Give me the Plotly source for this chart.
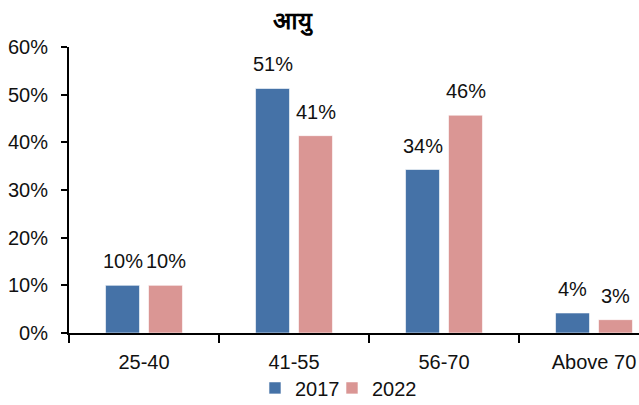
import plotly.graph_objects as go

categories = ["25-40", "41-55", "56-70", "Above 70"]
values_2017 = [10.0, 51.3, 34.3, 4.2]
values_2022 = [10.0, 41.4, 45.7, 2.8]
series_names = ["2017", "2022"]
y_ticks = [0, 10, 20, 30, 40, 50, 60]
y_tick_labels = ["0%", "10%", "20%", "30%", "40%", "50%", "60%"]
title_text = "आयु"

colors = ["#4572A7", "#DA9694"]
FONT = "Liberation Sans, Arial, sans-serif"

W, H = 639, 405

fig = go.Figure()
for name, vals, col, lg in zip(series_names, [values_2017, values_2022], colors, ["legend", "legend2"]):
    fig.add_trace(go.Bar(
        x=categories, y=vals, name=name, legend=lg,
        marker=dict(color=col, line=dict(color="rgba(255,255,255,0.6)", width=1)),
    ))

annotations = []
for shift, vals in zip([-21.5, 21.5], [values_2017, values_2022]):
    for c, v in zip(categories, vals):
        annotations.append(dict(
            x=c, y=v, xref="x", yref="y", text=f"{round(v)}%",
            showarrow=False, xshift=shift, yshift=24, yanchor="middle",
            font=dict(family=FONT, size=20, color="#111111"),
        ))

legend_common = dict(orientation="h", xanchor="left", y=-0.192, yanchor="middle",
                     font=dict(family=FONT, size=20, color="#111111"),
                     itemwidth=30, bgcolor="rgba(0,0,0,0)")

fig.update_layout(
    width=W, height=H,
    margin=dict(l=69, r=0, t=47, b=72, autoexpand=False),
    paper_bgcolor="white", plot_bgcolor="white",
    barmode="group", bargap=0.427, bargroupgap=0.21,
    title=dict(text=f"<b>{title_text}</b>", x=292/W, xanchor="center",
               y=1 - 21/H, yanchor="middle",
               font=dict(family=FONT, size=24, color="#000000")),
    font=dict(family=FONT, size=20, color="#111111"),
    showlegend=True,
    legend=dict(x=0.3263, **legend_common),
    legend2=dict(x=0.4614, **legend_common),
    annotations=annotations,
)
fig.update_xaxes(
    type="category", range=[-0.5, 3.3], automargin=False,
    showline=True, linecolor="#000000", linewidth=2,
    ticks="outside", tickson="boundaries", ticklen=8, tickwidth=2, tickcolor="#000000",
    ticklabelstandoff=10, showgrid=False, zeroline=False,
    tickfont=dict(family=FONT, size=20, color="#111111"),
)
fig.update_yaxes(
    range=[0, 60], tickvals=y_ticks, ticktext=y_tick_labels, automargin=False,
    showline=True, linecolor="#000000", linewidth=2,
    ticks="outside", ticklen=6, tickwidth=2, tickcolor="#000000",
    ticklabelstandoff=9, showgrid=False, zeroline=False,
    tickfont=dict(family=FONT, size=20, color="#111111"),
)

fig.write_html(
    "out.html",
    config={"displayModeBar": False},
    post_script="document.body.style.margin='0';document.body.style.overflow='hidden';",
)
